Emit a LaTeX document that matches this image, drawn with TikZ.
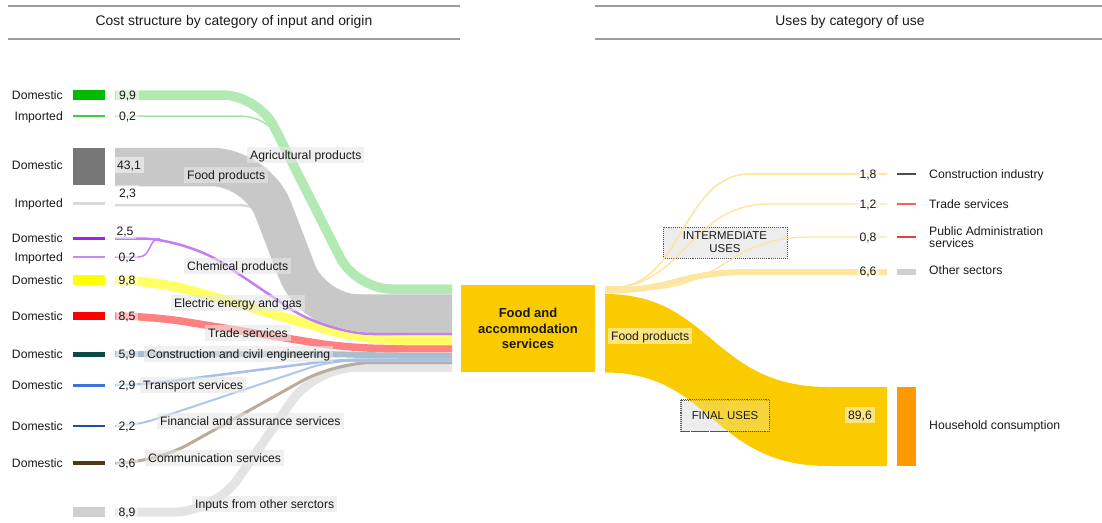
\documentclass[tikz,border=0pt]{standalone}
\usepackage{fontspec}
\setmainfont{Liberation Sans}
\usetikzlibrary{calc}

\definecolor{txt}{HTML}{1A1A1A}
\definecolor{rule}{HTML}{9C9C9C}
\definecolor{lblgray}{HTML}{E6E6E6}
\definecolor{boxgray}{HTML}{EDEDED}
\definecolor{boxedge}{HTML}{555555}
\definecolor{agri}{HTML}{00BA00}
\definecolor{agrilt}{HTML}{B3E9B3}
\definecolor{agriimp}{HTML}{3FCC3F}
\definecolor{agriimplt}{HTML}{A6E3A6}
\definecolor{fooddk}{HTML}{777777}
\definecolor{foodlt}{HTML}{C8C8C8}
\definecolor{foodimp}{HTML}{DADADA}
\definecolor{chem}{HTML}{A020F0}
\definecolor{chemimp}{HTML}{CC88F0}
\definecolor{chemlt}{HTML}{C47EF2}
\definecolor{elec}{HTML}{FFFF00}
\definecolor{eleclt}{HTML}{FFFF66}
\definecolor{trade}{HTML}{FF0000}
\definecolor{tradelt}{HTML}{FF8080}
\definecolor{constr}{HTML}{0D4A44}
\definecolor{constrlt}{HTML}{A9BFCC}
\definecolor{transp}{HTML}{3A74D8}
\definecolor{transplt}{HTML}{A6C0EC}
\definecolor{fin}{HTML}{1F4FA0}
\definecolor{finlt}{HTML}{B0C6EA}
\definecolor{comm}{HTML}{4D3A1A}
\definecolor{commlt}{HTML}{B9AC9C}
\definecolor{other}{HTML}{D0D0D0}
\definecolor{otherlt}{HTML}{E4E4E4}
\definecolor{gold}{HTML}{FACC00}
\definecolor{goldlt}{HTML}{FDE6A0}
\definecolor{hhorange}{HTML}{FF9900}
\definecolor{cisw}{HTML}{4D4D4D}
\definecolor{tssw}{HTML}{FF5C5C}
\definecolor{pasw}{HTML}{E84040}

\newcommand\fsbody{\fontsize{12.2}{14}\selectfont}
\newcommand\fshead{\fontsize{13.9}{16}\selectfont}
\newcommand\fsbox{\fontsize{11.4}{14}\selectfont}
\newcommand\fsmain{\fontsize{13}{15.5}\selectfont\bfseries}

% flow with a horizontal lead-in, a straight run and a horizontal lead-out
\newcommand\bentflow[5]{%
  \draw[#1] (#2) -- ($(#2)+(#3,0)$) -- ($(#5)+(-#4,0)$) -- (#5);}

% outline of the ribbon carrying final uses to household consumption
\newcommand\finalribbon{(fuT) .. controls (712,294) and (712,387) .. (828,387) -- (fuTE)
  -- (fuBE) -- (828,466) .. controls (712,466) and (712,372.5) .. (fuB) -- cycle}

\begin{document}
\begin{tikzpicture}[x=1pt,y=-1pt,
  every node/.style={text=txt, font=\fsbody},
  flow/.style={line cap=butt, line join=round},
  swatch/.style={inner sep=0pt, minimum width=32pt, minimum height=#1, draw=none},
  rswatch/.style={inner sep=0pt, minimum width=19pt, minimum height=#1, draw=none},
  side/.style={inner xsep=2pt, inner ysep=1.5pt, text height=10.5pt, text depth=2.5pt},
  clbl/.style={side, fill=lblgray, fill opacity=0.6, text opacity=1, inner xsep=3pt},
  vlbl/.style={side, fill=white, fill opacity=0.5, text opacity=1, inner xsep=3pt},
  usebox/.style={fill=boxgray, draw=boxedge, densely dotted, line width=0.9pt, inner sep=0pt},
  boxedgeline/.style={draw=boxedge, densely dotted, line width=0.9pt},
]
\useasboundingbox (0,0) rectangle (1102,522);

% ---------- headers ----------
\draw[rule, line width=2pt] (8,6) -- (460,6);
\draw[rule, line width=2pt] (8,39) -- (460,39);
\draw[rule, line width=2pt] (595,6) -- (1102,6);
\draw[rule, line width=2pt] (595,39) -- (1102,39);
\node[font=\fshead] (hleft) at (234,22) {Cost structure by category of input and origin};
\node[font=\fshead] (hright) at (850,22) {Uses by category of use};

% ---------- origin swatches ----------
\node[swatch=10, fill=agri] (agD) at (89,95) {};
\node[swatch=1.5, fill=agriimp] (agI) at (89,116) {};
\node[swatch=37, fill=fooddk] (fdD) at (89,166.5) {};
\node[swatch=3, fill=foodimp] (fdI) at (89,203.5) {};
\node[swatch=3, fill=chem] (chD) at (89,238.5) {};
\node[swatch=2, fill=chemimp] (chI) at (89,257) {};
\node[swatch=10, fill=elec] (elD) at (89,280) {};
\node[swatch=8, fill=trade] (trD) at (89,316) {};
\node[swatch=5, fill=constr] (coD) at (89,354) {};
\node[swatch=3, fill=transp] (tpD) at (89,385) {};
\node[swatch=2, fill=fin] (fiD) at (89,426) {};
\node[swatch=3.5, fill=comm] (cmD) at (89,463) {};
\node[swatch=10, fill=other] (otD) at (89,512) {};

\node[side, anchor=east] (agDl) at (65,95) {Domestic};
\node[side, anchor=east] (agIl) at (65,116) {Imported};
\node[side, anchor=east] (fdDl) at (65,165) {Domestic};
\node[side, anchor=east] (fdIl) at (65,203.5) {Imported};
\node[side, anchor=east] (chDl) at (65,238) {Domestic};
\node[side, anchor=east] (chIl) at (65,257) {Imported};
\node[side, anchor=east] (elDl) at (65,280) {Domestic};
\node[side, anchor=east] (trDl) at (65,316) {Domestic};
\node[side, anchor=east] (coDl) at (65,354) {Domestic};
\node[side, anchor=east] (tpDl) at (65,385) {Domestic};
\node[side, anchor=east] (fiDl) at (65,426) {Domestic};
\node[side, anchor=east] (cmDl) at (65,463) {Domestic};

% ---------- flow end points ----------
\coordinate (agS) at (115,95);     \coordinate (agE) at (452,289);
\coordinate (agIS) at (115,116);   \coordinate (agJ) at (287,152);
\coordinate (fdS) at (115,167);    \coordinate (fdE) at (452,313.5);
\coordinate (fdIS) at (115,205);   \coordinate (fdJ) at (285,240);
\coordinate (chS) at (115,238.5);  \coordinate (chE) at (452,334);
\coordinate (chIS) at (115,257);   \coordinate (chJ) at (160,238.5);
\coordinate (elS) at (115,280);    \coordinate (elE) at (452,340.5);
\coordinate (trS) at (115,316);    \coordinate (trE) at (452,348.5);
\coordinate (coS) at (115,354);    \coordinate (coE) at (452,355.5);
\coordinate (tpS) at (115,385);    \coordinate (tpE) at (452,359.5);
\coordinate (fiS) at (115,426);    \coordinate (fiE) at (452,361);
\coordinate (cmS) at (115,463);    \coordinate (cmE) at (452,362.5);
\coordinate (otS) at (115,512);    \coordinate (otE) at (452,367.5);

% ---------- input flows ----------
\draw[flow, agriimplt, line width=1.5pt] (agIS) -- ++(122,0) .. controls +(28,0) and +(-11,-22) .. (agJ);
\draw[flow, foodimp, line width=2.5pt] (fdIS) -- ++(120,0) .. controls +(25,0) and +(-9,-24) .. (fdJ);
\bentflow{flow, foodlt, line width=38.5pt, rounded corners=45pt}{fdS}{142}{139}{fdE}
\bentflow{flow, agrilt, line width=9.5pt, rounded corners=35pt}{agS}{143}{96}{agE}
\bentflow{flow, otherlt, line width=9pt, rounded corners=40pt}{otS}{100}{137}{otE}
\bentflow{flow, commlt, line width=3pt, rounded corners=38pt}{cmS}{40}{117}{cmE}
\bentflow{flow, finlt, line width=2pt, rounded corners=20pt}{fiS}{20}{122}{fiE}
\bentflow{flow, transplt, line width=2.5pt, rounded corners=25pt}{tpS}{25}{112}{tpE}
\bentflow{flow, constrlt, line width=6pt, rounded corners=20pt}{coS}{215}{72}{coE}
\bentflow{flow, tradelt, line width=7.5pt, rounded corners=35pt}{trS}{35}{102}{trE}
\bentflow{flow, eleclt, line width=9.5pt, rounded corners=40pt}{elS}{40}{87}{elE}
\draw[flow, chemlt, line width=1.5pt] (chIS) -- ++(23,0) .. controls +(14,0) and +(-12,0) .. (chJ);
\bentflow{flow, chemlt, line width=2.5pt, rounded corners=45pt}{chS}{71}{124}{chE}

% ---------- central sector ----------
\node[fill=gold, minimum width=134pt, minimum height=87pt, inner sep=0pt, align=center, font=\fsmain] (fas) at (528,328.5) {Food and\\accommodation\\services};

% ---------- destination swatches ----------
\node[rswatch=1.5, fill=cisw] (ciD) at (906.5,174) {};
\node[rswatch=1.5, fill=tssw] (tsD) at (906.5,204) {};
\node[rswatch=1.5, fill=pasw] (paD) at (906.5,237) {};
\node[rswatch=6, fill=other] (osD) at (906.5,272) {};
\node[rswatch=79, fill=hhorange] (hhD) at (906.5,426.5) {};

% ---------- intermediate uses ----------
\coordinate (iS18) at (605,287);   \coordinate (iE18) at (887,174);
\coordinate (iS12) at (605,288.5); \coordinate (iE12) at (887,204);
\coordinate (iS08) at (605,289.5); \coordinate (iE08) at (887,237);
\coordinate (iS66) at (605,290.5); \coordinate (iE66) at (887,272);

\node[usebox, minimum width=124pt, minimum height=31pt] (iubox) at (725,242.5) {};
\draw[flow, goldlt, line width=1.6pt] (iS18) -- (615,287) .. controls (682,287) and (682,174) .. (750,174) -- (iE18);
\draw[flow, goldlt, line width=1.4pt] (iS12) .. controls (687,288.5) and (687,204) .. (770,204) -- (iE12);
\draw[flow, goldlt, line width=1.3pt] (iS08) -- (640,289.5) .. controls (725,289.5) and (725,237) .. (810,237) -- (iE08);
\draw[flow, goldlt, line width=6pt] (iS66) .. controls (677,290.5) and (677,272) .. (750,272) -- (iE66);
\node[font=\fsbox, align=center, inner sep=0pt] (iutext) at (iubox.center) {INTERMEDIATE\\[-1pt]USES};

% ---------- final uses ----------
\coordinate (fuT) at (605,294);
\coordinate (fuB) at (605,372.5);
\coordinate (fuTE) at (887,387);
\coordinate (fuBE) at (887,466);
\fill[gold] \finalribbon;
\node[usebox, minimum width=88pt, minimum height=31pt] (fubox) at (725,415.5) {};
\begin{scope}
  \clip (fubox.south west) rectangle (fubox.north east);
  \fill[gold, opacity=0.75] \finalribbon;
\end{scope}
\draw[boxedgeline] (fubox.south west) rectangle (fubox.north east);
\node[font=\fsbox, inner sep=0pt] (futext) at (fubox.center) {FINAL USES};

\node[side, anchor=west] (ciL) at (927,174) {Construction industry};
\node[side, anchor=west] (tsL) at (927,204) {Trade services};
\node[anchor=west, align=left, inner sep=2pt] (paL) at (927,237) {Public Administration\\[-2pt]services};
\node[side, anchor=west] (osL) at (927,270) {Other sectors};
\node[side, anchor=west] (hhL) at (927,425) {Household consumption};

% ---------- category labels ----------
\node[clbl, anchor=west] (agLbl) at (247,155) {Agricultural products};
\node[clbl, anchor=west] (fdLbl) at (184,175) {Food products};
\node[clbl, anchor=west] (chLbl) at (184,266) {Chemical products};
\node[clbl, anchor=west] (elLbl) at (171,303) {Electric energy and gas};
\node[clbl, anchor=west] (trLbl) at (205,333) {Trade services};
\node[clbl, anchor=west] (coLbl) at (144,354) {Construction and civil engineering};
\node[clbl, anchor=west] (tpLbl) at (140,385) {Transport services};
\node[clbl, anchor=west] (fiLbl) at (157,421) {Financial and assurance services};
\node[clbl, anchor=west] (cmLbl) at (145,458) {Communication services};
\node[clbl, anchor=west] (otLbl) at (192,504) {Inputs from other serctors};

% ---------- values ----------
\node[vlbl] (v99) at (127.5,95) {9,9};
\node[vlbl] (v02a) at (127.5,116) {0,2};
\node[vlbl] (v431) at (129,165) {43,1};
\node[vlbl] (v23) at (127.5,193) {2,3};
\node[vlbl] (v25) at (125,231) {2,5};
\node[vlbl] (v02b) at (127,257) {0,2};
\node[vlbl] (v98) at (127,280) {9,8};
\node[vlbl] (v85) at (127,316) {8,5};
\node[vlbl] (v59) at (127,354) {5,9};
\node[vlbl] (v29) at (127,385) {2,9};
\node[vlbl] (v22) at (127,426) {2,2};
\node[vlbl] (v36) at (127,463) {3,6};
\node[vlbl] (v89) at (127,512) {8,9};

\node[vlbl] (v18) at (868,174) {1,8};
\node[vlbl] (v12) at (868,204) {1,2};
\node[vlbl] (v08) at (868,237) {0,8};
\node[vlbl] (v66) at (868,271.5) {6,6};
\node[vlbl] (v896) at (860,415) {89,6};
\node[vlbl, anchor=west] (fpR) at (608,336) {Food products};

\end{tikzpicture}
\end{document}
